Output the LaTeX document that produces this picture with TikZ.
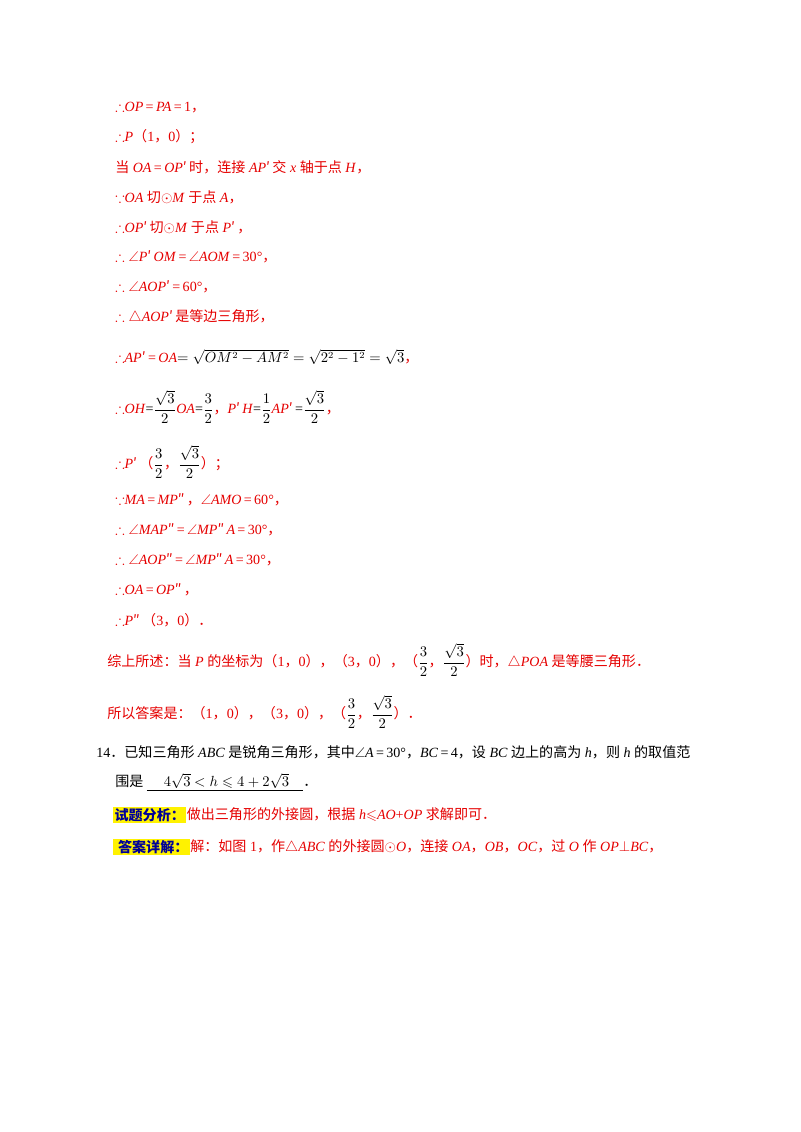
\documentclass[tikz,border=0pt]{standalone}
\usepackage{amsmath,amssymb}
\usepackage{fontspec}
\setmainfont{Liberation Serif}
\newfontfamily\cjk{Noto Sans CJK SC}
\usepackage{tikz}
\colorlet{ansred}{red!90!black}
\colorlet{tagblue}{blue!60!black}
\newcommand{\zh}[1]{{\cjk #1}}
\newcommand{\pr}{{\cjk ′}\,}
\newcommand{\ppr}{{\cjk ″}\,}
\newcommand{\fr}[2]{\textcolor{black}{$\displaystyle\frac{#1}{#2}$}}

\begin{document}
\begin{tikzpicture}[x=0.02625cm,y=-0.02625cm,
    line/.style={anchor=west,inner sep=0pt,text=ansred,font=\fontsize{10.5}{12}\selectfont},
    plain/.style={anchor=west,inner sep=0pt,text=black,font=\fontsize{10.5}{12}\selectfont},
    tag/.style={anchor=west,inner sep=1pt,fill=yellow,text=tagblue,font=\fontsize{10.5}{12}\selectfont\bfseries}]
        \useasboundingbox (0,0) rectangle (800,1132);
        \node[line] (l1) at (115,107) {$\therefore$\textit{OP}\,=\,\textit{PA}\,=\,1\zh{，}};
        \node[line] (l2) at (115,137) {$\therefore$\textit{P}\zh{（}1\zh{，}0\zh{）；}};
        \node[line] (l3) at (115,167) {\zh{当} \textit{OA}\,=\,\textit{OP}\pr\zh{时，连接} \textit{AP}\pr\zh{交} \textit{x} \zh{轴于点} \textit{H}\zh{，}};
        \node[line] (l4) at (115,197) {$\because$\textit{OA} \zh{切}$\odot$\textit{M} \zh{于点} \textit{A}\zh{，}};
        \node[line] (l5) at (115,227) {$\therefore$\textit{OP}\pr\zh{切}$\odot$\textit{M} \zh{于点} \textit{P}\pr\zh{，}};
        \node[line] (l6) at (115,257) {$\therefore\angle$\textit{P}\pr\textit{OM}\,=\,$\angle$\textit{AOM}\,=\,30°\zh{，}};
        \node[line] (l7) at (115,287) {$\therefore\angle$\textit{AOP}\pr=\,60°\zh{，}};
        \node[line] (l8) at (115,317) {$\therefore\triangle$\textit{AOP}\pr\zh{是等边三角形，}};
        \node[line] (l9) at (115,357) {$\therefore$\textit{AP}\pr=\,\textit{OA}\textcolor{black}{$=\sqrt{OM^2-AM^2}=\sqrt{2^2-1^2}=\sqrt{3}$}\zh{，}};
        \node[line] (l10) at (115,407) {$\therefore$\textit{OH}\textcolor{black}{=}\fr{\sqrt3}{2}\textit{OA}\textcolor{black}{=}\fr{3}{2}\zh{，}\textit{P}\pr\textit{H}\textcolor{black}{=}\fr{1}{2}\textit{AP}\pr\textcolor{black}{=}\fr{\sqrt3}{2}\zh{，}};
        \node[line] (l11) at (115,462) {$\therefore$\textit{P}\pr\zh{（}\fr{3}{2}\zh{，}\fr{\sqrt3}{2}\zh{）；}};
        \node[line] (l12) at (115,500) {$\because$\textit{MA}\,=\,\textit{MP}\ppr\zh{，}$\angle$\textit{AMO}\,=\,60°\zh{，}};
        \node[line] (l13) at (115,530) {$\therefore\angle$\textit{MAP}\ppr=\,$\angle$\textit{MP}\ppr\textit{A}\,=\,30°\zh{，}};
        \node[line] (l14) at (115,560) {$\therefore\angle$\textit{AOP}\ppr=\,$\angle$\textit{MP}\ppr\textit{A}\,=\,30°\zh{，}};
        \node[line] (l15) at (115,590) {$\therefore$\textit{OA}\,=\,\textit{OP}\ppr\zh{，}};
        \node[line] (l16) at (115,620) {$\therefore$\textit{P}\ppr\zh{（}3\zh{，}0\zh{）．}};
        \node[line] (l17) at (107,660) {\zh{综上所述：当} \textit{P} \zh{的坐标为（}1\zh{，}0\zh{），（}3\zh{，}0\zh{），（}\fr{3}{2}\zh{，}\fr{\sqrt3}{2}\zh{）时，}$\triangle$\textit{POA} \zh{是等腰三角形．}};
        \node[line] (l18) at (107,712) {\zh{所以答案是：（}1\zh{，}0\zh{），（}3\zh{，}0\zh{），（}\fr{3}{2}\zh{，}\fr{\sqrt3}{2}\zh{）．}};
        \node[plain] (q14) at (96,752) {14\zh{．已知三角形} \textit{ABC} \zh{是锐角三角形，其中}$\angle$\textit{A}\,=\,30°\zh{，}\textit{BC}\,=\,4\zh{，设} \textit{BC} \zh{边上的高为} \textit{h}\zh{，则} \textit{h} \zh{的取值范}};
        \node[plain] (q14b) at (115,782) {\zh{围是}\ \underline{\hspace{1.2em}$4\sqrt3$\ $<h\leqslant4+2\sqrt3$\hspace{1em}}\zh{．}};
        \node[tag] (t1) at (113,815) {\zh{试题分析：}};
        \node[line,anchor=west] (l19) at (t1.east) {\zh{做出三角形的外接圆，根据} \textit{h}$\leqslant$\textit{AO}+\textit{OP} \zh{求解即可．}};
        \node[tag] (t2) at (113,847) {\ \zh{答案详解：}};
        \node[line,anchor=west] (l20) at (t2.east) {\zh{解：如图} 1\zh{，作}$\triangle$\textit{ABC} \zh{的外接圆}$\odot$\textit{O}\zh{，连接} \textit{OA}\zh{，}\textit{OB}\zh{，}\textit{OC}\zh{，过} \textit{O} \zh{作} \textit{OP}$\perp$\textit{BC}\zh{，}};
\end{tikzpicture}
\end{document}
